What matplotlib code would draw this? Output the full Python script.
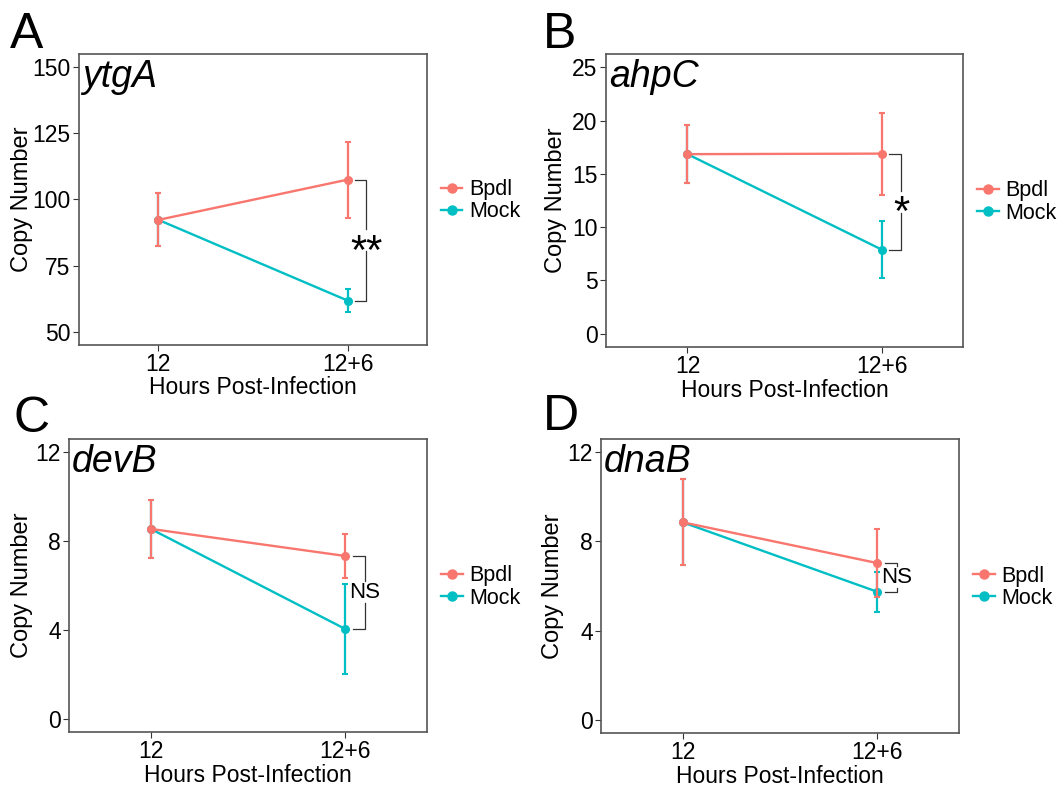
import matplotlib
matplotlib.use("Agg")
from matplotlib import pyplot
from matplotlib.lines import Line2D
from matplotlib.transforms import offset_copy

pyplot.rcParams["font.family"] = ["Liberation Sans", "DejaVu Sans"]

time_labels = ["12", "12+6"]
genes = ["ytgA", "ahpC", "devB", "dnaB"]
panel_letters = ["A", "B", "C", "D"]
sig_labels = ["**", "*", "NS", "NS"]

# mean copy number and error half-width per gene, at 12 and 12+6 h
bpdl_mean = [[92.3, 107.5], [16.85, 16.9], [8.55, 7.33], [8.86, 7.03]]
bpdl_err = [[10.0, 14.4], [2.73, 3.85], [1.31, 0.99], [1.93, 1.51]]
mock_mean = [[92.3, 61.8], [16.85, 7.9], [8.55, 4.04], [8.86, 5.74]]
mock_err = [[10.0, 4.4], [2.73, 2.72], [1.31, 2.04], [1.93, 0.9]]

y_ticks = [[50, 75, 100, 125, 150], [0, 5, 10, 15, 20, 25], [0, 4, 8, 12], [0, 4, 8, 12]]

BPDL = "#F8766D"
MOCK = "#00BFC4"

W, H = 1063, 788
# axes boxes in pixels: left, top, right, bottom
boxes = [(79, 54, 427, 345), (606, 54, 963, 347), (69, 439, 427, 732), (601, 439, 959, 733)]
letter_pos = [(10, 48), (543, 48), (13, 432), (543, 430)]
ylabel_right = [33, 567, 33, 564]


def draw_panel(fig, i):
    l, t, r, b = boxes[i]
    ax = fig.add_axes([l / W, 1 - b / H, (r - l) / W, (b - t) / H])
    x = [1, 2]
    style = dict(lw=1.7, marker="o", ms=5.5, capsize=2.3, capthick=1.5, elinewidth=1.6)
    ax.errorbar(x, mock_mean[i], yerr=mock_err[i], color=MOCK, zorder=3, **style)
    ax.errorbar(x, bpdl_mean[i], yerr=bpdl_err[i], color=BPDL, zorder=4, **style)

    ticks = y_ticks[i]
    span = ticks[-1] - ticks[0]
    y0, y1 = ticks[0] - 0.05 * span, ticks[-1] + 0.05 * span
    ax.set_ylim(y0, y1)

    # significance bracket at 12+6, split around the label
    top, bot = bpdl_mean[i][1], mock_mean[i][1]
    mid = (top + bot) / 2
    gap = 11 / (b - t) * (y1 - y0)
    bx0, bx1 = 2.04, 2.1
    kw = dict(color="#333333", lw=0.9, zorder=2)
    ax.plot([bx0, bx1, bx1], [top, top, min(top, mid + gap)], **kw)
    ax.plot([bx0, bx1, bx1], [bot, bot, max(bot, mid - gap)], **kw)
    if "*" in sig_labels[i]:
        tr = offset_copy(ax.transData, fig=fig, y=-9, units="points")
        fs = 30
    else:
        tr = ax.transData
        fs = 16
    ax.text(bx1, mid, sig_labels[i], transform=tr, ha="center", va="center",
            fontsize=fs, zorder=2.5)

    ax.set_yticks(ticks)
    ax.set_xlim(0.58, 2.42)
    ax.set_xticks(x)
    ax.set_xticklabels(time_labels)
    ax.tick_params(labelsize=16.5, length=4, width=0.8, color="#333333", pad=2)
    for s in ax.spines.values():
        s.set_color("#555555")
        s.set_linewidth(1.2)
    ax.set_xlabel("Hours Post-Infection", fontsize=16.5)
    ax.set_ylabel("Copy Number", fontsize=17)
    ax.xaxis.set_label_coords(0.5, -0.108)
    ax.yaxis.set_label_coords((ylabel_right[i] - l) / (r - l), 0.5)

    ax.text(0.008, 1 - 33 / (b - t), genes[i], transform=ax.transAxes, fontsize=27,
            style="italic", ha="left", va="baseline")

    handles = [Line2D([], [], color=BPDL, lw=1.7, marker="o", ms=6.5),
               Line2D([], [], color=MOCK, lw=1.7, marker="o", ms=6.5)]
    ax.legend(handles, ["Bpdl", "Mock"], loc="center left", bbox_to_anchor=(1.04, 0.495),
              frameon=False, fontsize=15.5, handlelength=1.0, handletextpad=0.3,
              labelspacing=0.05, borderpad=0, borderaxespad=0)

    lx, ly = letter_pos[i]
    fig.text(lx / W, 1 - ly / H, panel_letters[i], fontsize=36, ha="left", va="baseline")


fig = pyplot.figure(figsize=(W / 100, H / 100), dpi=100)
for i in range(4):
    draw_panel(fig, i)
fig.savefig("out.png", dpi=100)
